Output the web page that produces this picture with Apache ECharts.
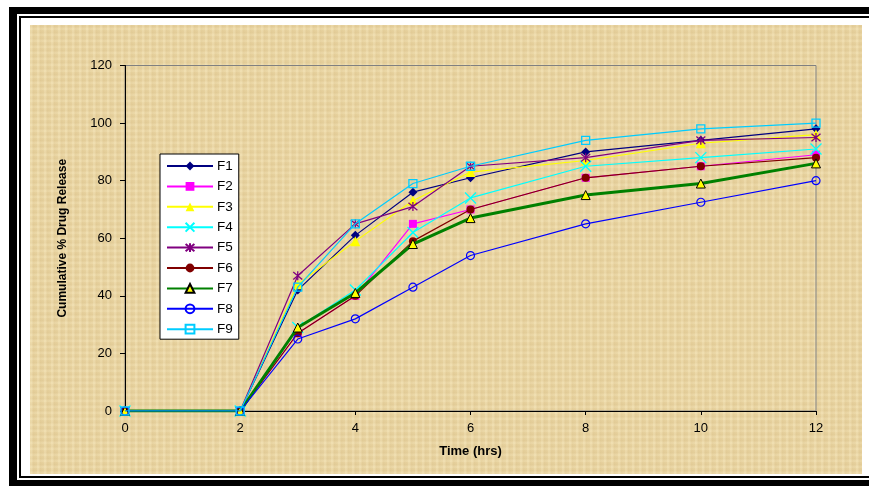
<!DOCTYPE html>
<html>
<head>
<meta charset="utf-8">
<script src="https://cdn.jsdelivr.net/npm/echarts@6/dist/echarts.min.js"></script>
<style>
  html, body { margin: 0; padding: 0; background: #ffffff; overflow: hidden; }
  #frameA { position: absolute; left: 9px; top: 7px; width: 900px; height: 479px; box-sizing: border-box;
            border-top: 7px solid #000; border-left: 8px solid #000; border-bottom: 6px solid #000; background: #fff; }
  #frameB { position: absolute; left: 19px; top: 16px; width: 900px; height: 462px; box-sizing: border-box;
            border-top: 2px solid #000; border-left: 2px solid #000; border-bottom: 2px solid #000; background: #fff; }
  #paper { position: absolute; left: 30px; top: 25px; width: 832px; height: 449px;
           background-color: #E8D3A0;
           background-image:
             repeating-linear-gradient(90deg, rgba(255,245,210,0.20) 0px, rgba(255,245,210,0.20) 2px, rgba(200,170,110,0.12) 3px, rgba(200,170,110,0.0) 7px),
             repeating-linear-gradient(0deg, rgba(255,245,210,0.16) 0px, rgba(255,245,210,0.16) 2px, rgba(200,170,110,0.12) 3px, rgba(200,170,110,0.0) 6px); }
  #chart { position: absolute; left: 0; top: 0; width: 869px; height: 486px; }
</style>
</head>
<body>
<div id="frameA"></div>
<div id="frameB"></div>
<div id="paper"></div>
<div id="chart"></div>
<script>
// ---- data ----
var timeHrs = [0, 2, 3, 4, 5, 6, 8, 10, 12];
var seriesNames = ['F1', 'F2', 'F3', 'F4', 'F5', 'F6', 'F7', 'F8', 'F9'];
var F1 = [0, 0, 42, 61, 76, 81, 90, 94, 98];
var F2 = [0, 0, 27, 40, 65, 70, 81, 85, 89];
var F3 = [0, 0, 44, 59, 73, 83, 87, 93, 96];
var F4 = [0, 0, 29, 42, 62, 74, 85, 88, 91];
var F5 = [0, 0, 47, 65, 71, 85, 88, 94, 95];
var F6 = [0, 0, 27, 40, 59, 70, 81, 85, 88];
var F7 = [0, 0, 29, 41, 58, 67, 75, 79, 86];
var F8 = [0, 0, 25, 32, 43, 54, 65, 72.5, 80];
var F9 = [0, 0, 43, 65, 79, 85, 94, 98, 100];
var yTicks = [0, 20, 40, 60, 80, 100, 120];
var xTicks = [0, 2, 4, 6, 8, 10, 12];

var values = [F1, F2, F3, F4, F5, F6, F7, F8, F9];

function pairs(arr) { return timeHrs.map(function (t, i) { return [t, arr[i]]; }); }

var styles = [
  { color: '#000080', symbol: 'diamond', size: 9, fill: '#000080', border: '#000080', bw: 0, lw: 1.2 },
  { color: '#FF00FF', symbol: 'rect', size: 8, fill: '#FF00FF', border: '#FF00FF', bw: 0, lw: 1.2 },
  { color: '#FFFF00', symbol: 'triangle', size: 10, fill: '#FFFF00', border: '#FFFF00', bw: 0, lw: 1.2 },
  { color: '#00FFFF', symbol: 'path://M0,0L10,10M10,0L0,10', size: 11, fill: 'rgba(0,0,0,0)', border: '#00FFFF', bw: 1.3, lw: 1.2 },
  { color: '#800080', symbol: 'path://M0,0L10,10M10,0L0,10M5,-1L5,11', size: 9, fill: 'rgba(0,0,0,0)', border: '#800080', bw: 1.3, lw: 1.2 },
  { color: '#800000', symbol: 'circle', size: 8, fill: '#800000', border: '#800000', bw: 0, lw: 1.2 },
  { color: '#008000', symbol: 'triangle', size: 9, fill: '#FFFF00', border: '#000000', bw: 1, lw: 3 },
  { color: '#0000FF', symbol: 'circle', size: 8, fill: 'rgba(0,0,0,0)', border: '#0000FF', bw: 1.2, lw: 1.2 },
  { color: '#00CCFF', symbol: 'rect', size: 8, fill: 'rgba(0,0,0,0)', border: '#00CCFF', bw: 1.3, lw: 1.2 }
];

var series = seriesNames.map(function (name, i) {
  var s = styles[i];
  return {
    name: name,
    type: 'line',
    data: pairs(values[i]),
    symbol: s.symbol,
    symbolSize: s.size,
    showAllSymbol: true,
    lineStyle: { color: s.color, width: s.lw },
    itemStyle: { color: s.fill, borderColor: s.border, borderWidth: s.bw },
    emphasis: { disabled: true },
    animation: false,
    z: 2 + i
  };
});

var chart = echarts.init(document.getElementById('chart'), null, { renderer: 'canvas' });
chart.setOption({
  backgroundColor: 'transparent',
  animation: false,
  textStyle: { fontFamily: 'Liberation Sans, Arial, sans-serif' },
  grid: { left: 125, right: 53, top: 65.5, bottom: 75, show: true, borderColor: '#808080', borderWidth: 1, backgroundColor: 'transparent' },
  legend: {
    orient: 'vertical',
    left: 160, top: 154,
    padding: [5, 6, 3, 6],
    itemWidth: 46, itemHeight: 11, itemGap: 6.4,
    backgroundColor: '#ffffff', borderColor: '#000000', borderWidth: 1,
    textStyle: { fontSize: 13.5, lineHeight: 14, color: '#000', fontFamily: 'Liberation Sans, Arial, sans-serif', padding: [0, 0, 0, -1] },
    data: seriesNames,
    selectedMode: false
  },
  xAxis: {
    type: 'value', min: xTicks[0], max: xTicks[xTicks.length - 1], interval: 2,
    name: 'Time (hrs)', nameLocation: 'middle', nameGap: 34,
    nameTextStyle: { fontSize: 13, fontWeight: 'bold', color: '#000', fontFamily: 'Liberation Sans, Arial, sans-serif' },
    axisLine: { show: true, lineStyle: { color: '#000', width: 1 } },
    axisTick: { show: true, inside: false, length: 4, lineStyle: { color: '#000' } },
    axisLabel: { fontSize: 13, color: '#000', margin: 11 },
    splitLine: { show: false }
  },
  yAxis: {
    type: 'value', min: yTicks[0], max: yTicks[yTicks.length - 1], interval: 20,
    name: 'Cumulative % Drug Release', nameLocation: 'middle', nameGap: 56,
    nameTextStyle: { fontSize: 12, fontWeight: 'bold', color: '#000', fontFamily: 'Liberation Sans, Arial, sans-serif' },
    axisLine: { show: true, lineStyle: { color: '#000', width: 1 } },
    axisTick: { show: true, inside: false, length: 5, lineStyle: { color: '#000' } },
    axisLabel: { fontSize: 13, color: '#000', margin: 13 },
    splitLine: { show: false }
  },
  series: series
});
</script>
</body>
</html>
